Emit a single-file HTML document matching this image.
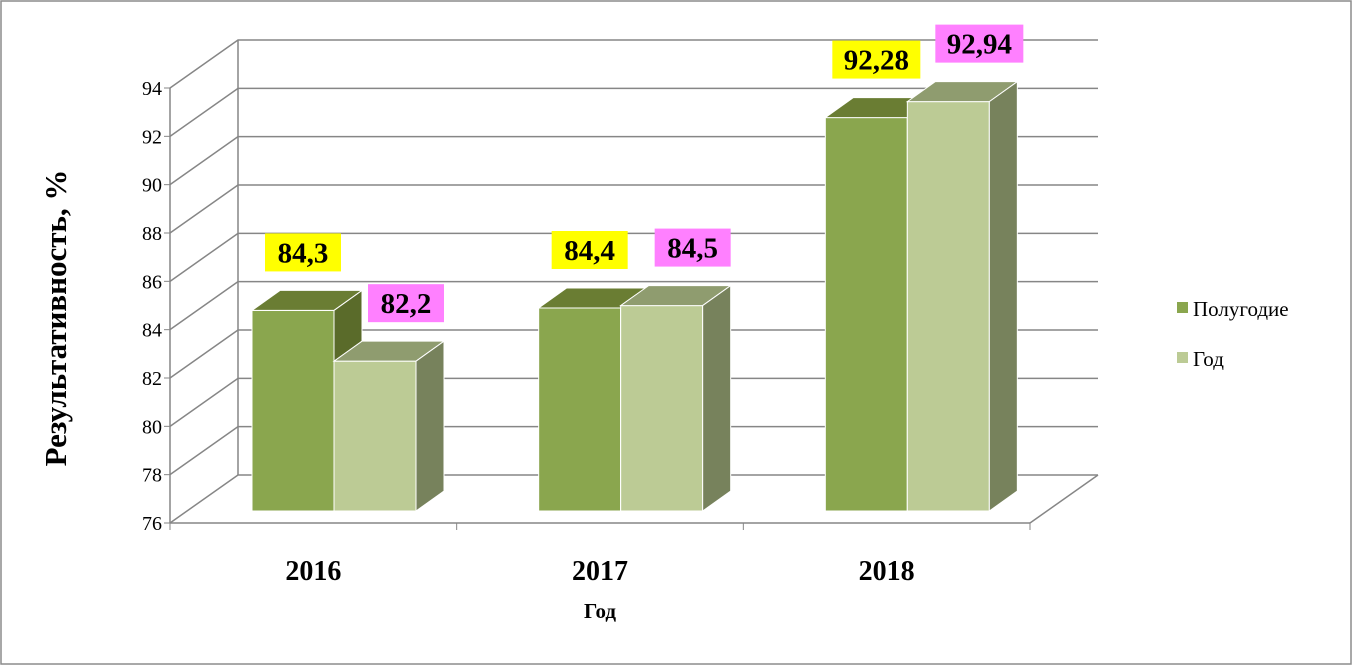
<!DOCTYPE html>
<html><head><meta charset="utf-8"><style>
body{margin:0;background:#fff}
svg{display:block;font-family:"Liberation Serif",serif}
</style></head><body>
<svg id="c" width="1353" height="666">
<rect x="1" y="1" width="1350" height="663" fill="#fff" stroke="#8c8c8c" stroke-width="1.5"/>
<g id="grid"></g><g id="bars"></g><g id="labels"></g>
<text x="0" y="0" transform="translate(66,318) rotate(-90)" text-anchor="middle" font-size="31" font-weight="bold">Результативность, %</text>
<text x="600" y="618" text-anchor="middle" font-size="21" font-weight="bold">Год</text>
<rect x="1177" y="302" width="11" height="11" fill="#8aa64e"/>
<text x="1193" y="316" font-size="21">Полугодие</text>
<rect x="1177" y="352" width="11" height="11" fill="#bccb95"/>
<text x="1193" y="366" font-size="21">Год</text>
</svg>
<script>
const categories=["2016","2017","2018"];
const halfYear=[84.3,84.4,92.28];
const fullYear=[82.2,84.5,92.94];
const halfLabels=["84,3","84,4","92,28"];
const yearLabels=["82,2","84,5","92,94"];
const yTicks=[76,78,80,82,84,86,88,90,92,94];
const NS="http://www.w3.org/2000/svg";
const yMin=76,yMax=94,x0=170,x1=1030,yBot=523,yTop=88,DX=68,DY=-48;
function yAxis(v){return yBot-(v-yMin)/(yMax-yMin)*(yBot-yTop);}
function mk(t,a,p){const e=document.createElementNS(NS,t);for(const k in a)e.setAttribute(k,a[k]);p.appendChild(e);return e;}
const grid=document.getElementById('grid'),bars=document.getElementById('bars'),labels=document.getElementById('labels');
// walls
mk('line',{x1:x0,y1:yBot,x2:x0,y2:yTop,stroke:'#868686','stroke-width':1.5},grid);
mk('line',{x1:x0+DX,y1:yBot+DY,x2:x0+DX,y2:yTop+DY,stroke:'#868686','stroke-width':1.5},grid);
mk('line',{x1:x1,y1:yBot,x2:x1+DX,y2:yBot+DY,stroke:'#868686','stroke-width':1.5},grid);
mk('line',{x1:x0,y1:yBot,x2:x1,y2:yBot,stroke:'#868686','stroke-width':1.5},grid);
yTicks.forEach((t,i)=>{
 const y=yAxis(t);
 const l=mk('polyline',{points:`${x0},${y} ${x0+DX},${y+DY} ${x1+DX},${y+DY}`,fill:'none',stroke:'#868686','stroke-width':1.5},grid);
 
 
 mk('line',{x1:x0-6,y1:y,x2:x0,y2:y,stroke:'#868686'},grid);
 const tx=mk('text',{x:x0-8,y:y+7,'text-anchor':'end','font-size':20},grid);
 tx.textContent=t;
 
 
});
const cw=(x1-x0)/categories.length;
const bdx=17,bdy=-12,tdx=28,tdy=-20,bw=82;
function bar(xl,v,cols,name){
 const g=mk('g',{},bars);
 
 
 const yt=yAxis(v)+bdy,yb=yBot+bdy;
 mk('rect',{x:xl,y:yt,width:bw,height:yb-yt,fill:cols[0],stroke:'#fff','stroke-width':1},g);
 mk('polygon',{points:`${xl},${yt} ${xl+tdx},${yt+tdy} ${xl+bw+tdx},${yt+tdy} ${xl+bw},${yt}`,fill:cols[1],stroke:'#fff','stroke-width':1},g);
 mk('polygon',{points:`${xl+bw},${yt} ${xl+bw+tdx},${yt+tdy} ${xl+bw+tdx},${yb+tdy} ${xl+bw},${yb}`,fill:cols[2],stroke:'#fff','stroke-width':1},g);
 return yt;
}
function label(cx,cy,txt,bg,name){
 const w=txt.length>4?88:76;
 const r=mk('rect',{x:cx-w/2,y:cy-19,width:w,height:38,fill:bg},labels);
 
 
 const t=mk('text',{x:cx,y:cy+10,'text-anchor':'middle','font-size':29,'font-weight':'bold'},labels);
 t.textContent=txt;
 
 
}
categories.forEach((c,i)=>{
 const xl=x0+i*cw+82;
 const t1=bar(xl,halfYear[i],['#8aa64e','#6a7d33','#5a6b2a'],'bar-half-'+c);
 const t2=bar(xl+bw,fullYear[i],['#bccb95','#8f9c6f','#77825c'],'bar-year-'+c);
 label(xl+bw/2+10,t1-58,halfLabels[i],'#ffff00','value-label-half-'+c);
 label(xl+bw*1.5+31,t2-58,yearLabels[i],'#ff80ff','value-label-year-'+c);
 mk('line',{x1:x0+(i+1)*cw,y1:yBot,x2:x0+(i+1)*cw,y2:yBot+7,stroke:'#868686'},grid);
 const t=mk('text',{x:x0+i*cw+cw/2,y:580,'text-anchor':'middle','font-size':28,'font-weight':'bold'},labels);
 t.textContent=c;
 
 
});
mk('line',{x1:x0,y1:yBot,x2:x0,y2:yBot+7,stroke:'#868686'},grid);
</script>
</body></html>
